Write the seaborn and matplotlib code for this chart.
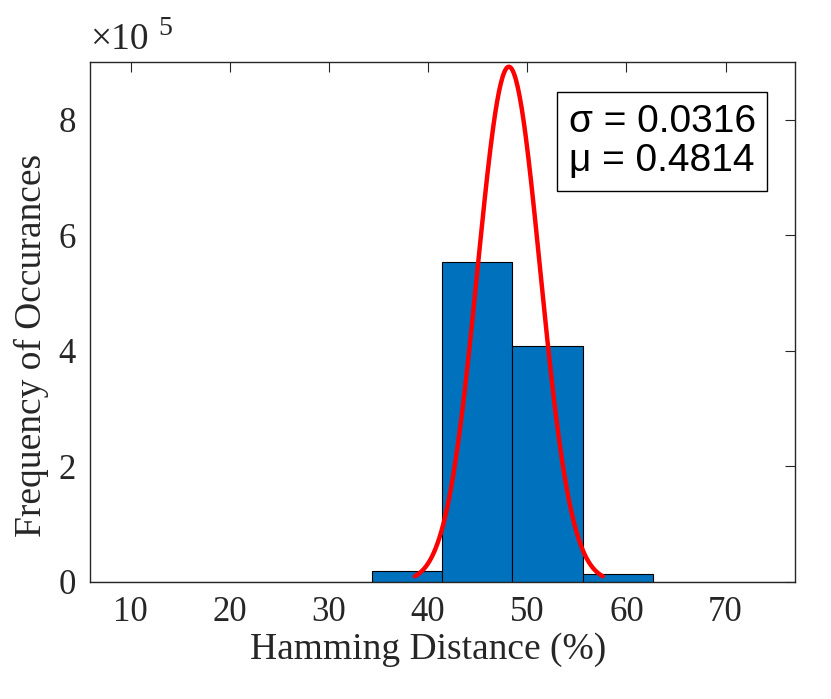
import numpy as np
import pandas as pd
import matplotlib
matplotlib.use("Agg")
import matplotlib.pyplot as plt
import seaborn as sns

# histogram bins (Hamming distance, %) and counts
bin_edges = [5.9, 13.0, 20.1, 27.2, 34.3, 41.4, 48.5, 55.6, 62.7, 69.8, 76.9]
counts = [0, 0, 0, 600, 19000, 553000, 409000, 13000, 300, 0]

# fitted normal parameters (shown in the text box)
mu = 0.4814
sigma = 0.0316
total = sum(counts)

x_ticks = [10, 20, 30, 40, 50, 60, 70]
y_ticks = [0, 2e5, 4e5, 6e5, 8e5]
y_tick_labels = ["0", "2", "4", "6", "8"]

sns.set_theme(style="white")
plt.rcParams["font.family"] = ["Liberation Serif", "DejaVu Serif"]

centers = [(a + b) / 2 for a, b in zip(bin_edges[:-1], bin_edges[1:])]
df = pd.DataFrame({"hd": centers, "n": counts})

fig = plt.figure(figsize=(8.31, 6.99), dpi=100)
ax = fig.add_axes([0.1083, 0.1674, 0.8484, 0.7439])

sns.histplot(data=df, x="hd", weights="n", bins=bin_edges, color="#0072BD",
             edgecolor="black", linewidth=0.8, alpha=1, ax=ax)

# fitted curve like histfit: mu +/- 3 sigma, scaled by N * bin width
width = bin_edges[1] - bin_edges[0]
xs = np.linspace(100 * (mu - 3 * sigma), 100 * (mu + 3 * sigma), 200)
s = 100 * sigma
ys = total * width * np.exp(-0.5 * ((xs - 100 * mu) / s) ** 2) / (s * np.sqrt(2 * np.pi))
sns.lineplot(x=xs, y=ys, color="red", linewidth=3.2, ax=ax)

ax.set_xlim(5.9, 77.0)
ax.set_ylim(0, 9e5)
ax.set_xticks(x_ticks)
ax.set_yticks(y_ticks)
ax.set_yticklabels(y_tick_labels)
ax.tick_params(direction="in", length=7, width=0.8, labelsize=25, colors="#262626",
               top=True, right=True, pad=10)
for sp in ax.spines.values():
    sp.set_linewidth(1.0)
    sp.set_color("#262626")

ax.set_xlabel("Hamming Distance (%)", fontsize=27, color="#262626")
ax.set_ylabel("Frequency of Occurances", fontsize=27, color="#262626")
ax.xaxis.set_label_coords(0.479, -0.097)
ax.yaxis.set_label_coords(-0.058, 0.454)

ax.text(0.0, 1.01, "×10", transform=ax.transAxes, fontsize=27,
        color="#262626", ha="left", va="bottom")
ax.text(0.097, 1.04, "5", transform=ax.transAxes, fontsize=20,
        color="#262626", ha="left", va="bottom")

ax.text(0.679, 0.919, "σ = 0.0316\nμ = 0.4814", transform=ax.transAxes,
        fontsize=28, family="Liberation Sans", color="black", ha="left", va="top",
        linespacing=1.1,
        bbox=dict(boxstyle="square,pad=0.3", facecolor="white", edgecolor="black", linewidth=1))

fig.savefig("out.png", dpi=100)
